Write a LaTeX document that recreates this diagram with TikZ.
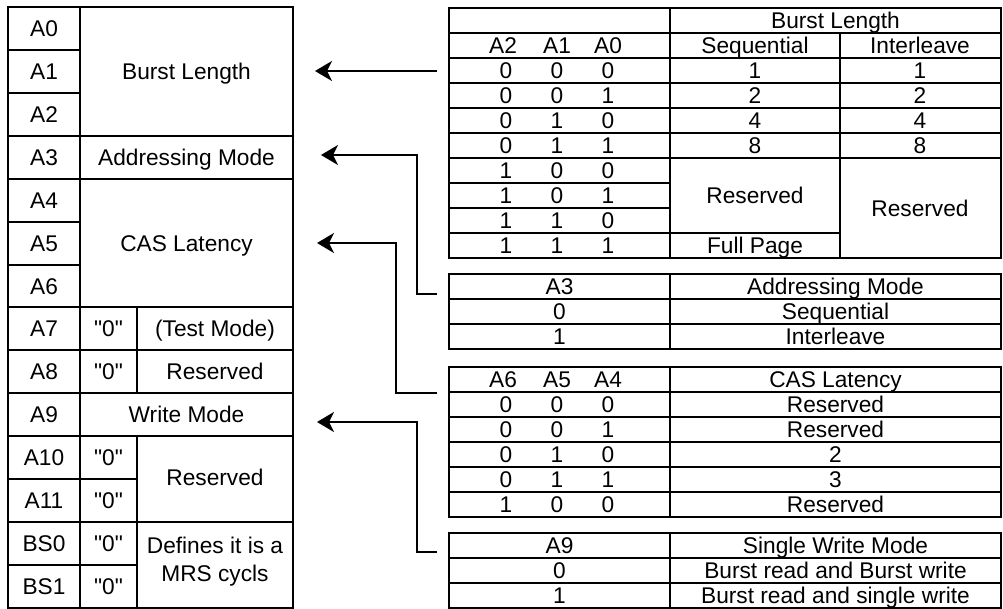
\documentclass[tikz,border=0pt]{standalone}
\usepackage{fontspec}
\setmainfont{Liberation Sans}[Ligatures=TeXOff]
\usetikzlibrary{arrows.meta}
\begin{document}
\begin{tikzpicture}[x=1pt,y=-1pt,line width=2.3pt,line cap=rect,
  celltxt/.style={anchor=base,inner sep=0pt,font=\fontsize{22.7}{28}\selectfont},
  multitxt/.style={anchor=center,inner sep=0pt,align=center,font=\fontsize{22.7}{28}\selectfont},
  arr/.style={line width=2.6pt,line cap=butt,-{Stealth[length=17pt,width=20pt,inset=5pt]}}]
\useasboundingbox (0,0) rectangle (1003,608);
\newcommand\cellt[4]{\node[celltxt] (#1) at ({#2},{#3+8}) {#4};}
\newcommand\zq{"0"}
% ---------------- left register table ----------------
\draw (8,7) rectangle (293,608);
\draw (80,7) -- (80,608);
\draw (137,307) -- (137,393);
\draw (137,436) -- (137,608);
\foreach \y in {50,93,222,265} \draw (8,\y) -- (80,\y);
\foreach \y in {479,565} \draw (8,\y) -- (137,\y);
\foreach \y in {136,179,307,350,393,436,522} \draw (8,\y) -- (293,\y);
\foreach \n/\y [count=\i] in {A0/28.5,A1/71.5,A2/114.5,A3/157.5,A4/200.5,A5/243.5,A6/286,A7/328.5,A8/371.5,A9/414.5,A10/457.5,A11/500.5,BS0/543.5,BS1/586.5}
  \node[celltxt] (lab\i) at (44,{\y+8}) {\n};
\cellt{fBL}{186.5}{71.5}{Burst Length}
\cellt{fAM}{186.5}{157.5}{Addressing Mode}
\cellt{fCL}{186.5}{243}{CAS Latency}
\cellt{fWM}{186.5}{414.5}{Write Mode}
\foreach \y [count=\i] in {328.5,371.5,457.5,500.5,543.5,586.5}
  \node[celltxt] (z\i) at (108.5,{\y+8}) {\zq};
\cellt{fTM}{215}{328.5}{(Test Mode)}
\cellt{fR1}{215}{371.5}{Reserved}
\cellt{fR2}{215}{477}{Reserved}
\node[multitxt] (fMRS) at (215,562) {Defines it is a\\MRS cycls};
% ---------------- Burst length table ----------------
\draw (449,8) rectangle (1001,258);
\draw (670,8) -- (670,258);
\draw (840,33) -- (840,258);
\foreach \y in {33,58,83,108,133,158} \draw (449,\y) -- (1001,\y);
\foreach \y in {183,208} \draw (449,\y) -- (670,\y);
\draw (449,233) -- (840,233);
\cellt{bH}{835.5}{20.5}{Burst Length}
\cellt{bA2}{503}{45.5}{A2}
\cellt{bA1}{557}{45.5}{A1}
\cellt{bA0}{608}{45.5}{A0}
\cellt{bSeq}{755}{45.5}{Sequential}
\cellt{bInt}{920}{45.5}{Interleave}
\foreach \a/\b/\c/\s/\t [count=\i] in {0/0/0/1/1,0/0/1/2/2,0/1/0/4/4,0/1/1/8/8}{
  \node[celltxt] (bra\i) at (506,{70.5+25*(\i-1)+8}) {\a};
  \node[celltxt] (brb\i) at (557,{70.5+25*(\i-1)+8}) {\b};
  \node[celltxt] (brc\i) at (608,{70.5+25*(\i-1)+8}) {\c};
  \node[celltxt] (brs\i) at (755,{70.5+25*(\i-1)+8}) {\s};
  \node[celltxt] (bri\i) at (920,{70.5+25*(\i-1)+8}) {\t};
}
\foreach \a/\b/\c [count=\i] in {1/0/0,1/0/1,1/1/0,1/1/1}{
  \node[celltxt] (bxa\i) at (506,{170.5+25*(\i-1)+8}) {\a};
  \node[celltxt] (bxb\i) at (557,{170.5+25*(\i-1)+8}) {\b};
  \node[celltxt] (bxc\i) at (608,{170.5+25*(\i-1)+8}) {\c};
}
\cellt{bRs}{755}{195.5}{Reserved}
\cellt{bFP}{755}{245.5}{Full Page}
\cellt{bRi}{920}{208}{Reserved}
% ---------------- Addressing mode table ----------------
\draw (449,274) rectangle (1001,349);
\draw (670,274) -- (670,349);
\foreach \y in {299,324} \draw (449,\y) -- (1001,\y);
\cellt{aH1}{559.5}{286.5}{A3}
\cellt{aH2}{835.5}{286.5}{Addressing Mode}
\cellt{a01}{559.5}{311.5}{0}
\cellt{a02}{835.5}{311.5}{Sequential}
\cellt{a11}{559.5}{336.5}{1}
\cellt{a12}{835.5}{336.5}{Interleave}
% ---------------- CAS latency table ----------------
\draw (449,367) rectangle (1001,517);
\draw (670,367) -- (670,517);
\foreach \y in {392,417,442,467,492} \draw (449,\y) -- (1001,\y);
\cellt{cA6}{503}{379.5}{A6}
\cellt{cA5}{557}{379.5}{A5}
\cellt{cA4}{608}{379.5}{A4}
\cellt{cH}{835.5}{379.5}{CAS Latency}
\foreach \a/\b/\c/\v [count=\i] in {0/0/0/Reserved,0/0/1/Reserved,0/1/0/2,0/1/1/3,1/0/0/Reserved}{
  \node[celltxt] (ca\i) at (506,{404.5+25*(\i-1)+8}) {\a};
  \node[celltxt] (cb\i) at (557,{404.5+25*(\i-1)+8}) {\b};
  \node[celltxt] (cc\i) at (608,{404.5+25*(\i-1)+8}) {\c};
  \node[celltxt] (cv\i) at (835.5,{404.5+25*(\i-1)+8}) {\v};
}
% ---------------- Write mode table ----------------
\draw (449,533) rectangle (1001,608);
\draw (670,533) -- (670,608);
\foreach \y in {558,583} \draw (449,\y) -- (1001,\y);
\cellt{wH1}{559.5}{545.5}{A9}
\cellt{wH2}{835.5}{545.5}{Single Write Mode}
\cellt{w01}{559.5}{570.5}{0}
\cellt{w02}{835.5}{570.5}{Burst read and Burst write}
\cellt{w11}{559.5}{595.5}{1}
\cellt{w12}{835.5}{595.5}{Burst read and single write}
% ---------------- connectors ----------------
\coordinate (s1) at (437,71);   \coordinate (e1) at (315,71);
\coordinate (s2) at (437,294);  \coordinate (k2) at (417,155); \coordinate (e2) at (321,155);
\coordinate (s3) at (437,393);  \coordinate (k3) at (396,243); \coordinate (e3) at (317,243);
\coordinate (s4) at (437,552);  \coordinate (k4) at (417,422); \coordinate (e4) at (317,422);
\draw[arr] (s1) -- (e1);
\draw[arr] (s2) -| (k2) -- (e2);
\draw[arr] (s3) -| (k3) -- (e3);
\draw[arr] (s4) -| (k4) -- (e4);
\end{tikzpicture}
\end{document}
